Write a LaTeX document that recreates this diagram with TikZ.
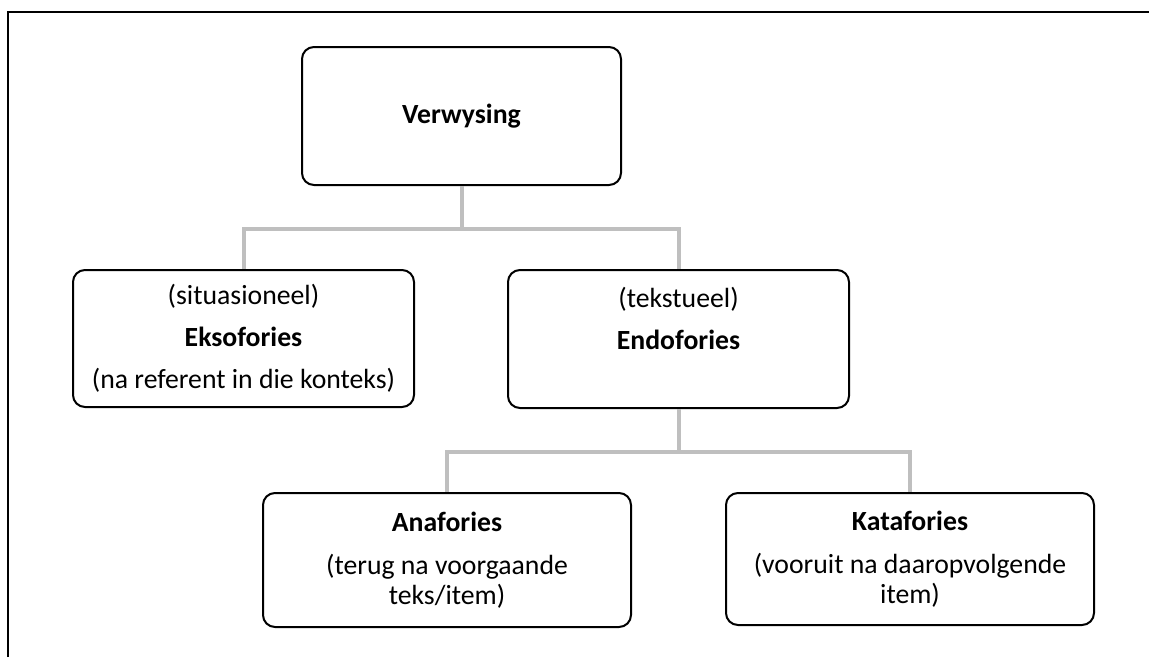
\documentclass[tikz,border=0pt]{standalone}
\usepackage{fontspec}
\setmainfont{Carlito}
\usepackage{tikz}
\usetikzlibrary{positioning,calc}

\begin{document}
\begin{tikzpicture}[x=0.75pt,y=-0.75pt,
	box/.style={draw=black, line width=1.5pt, rounded corners=9pt, fill=white, align=center, inner sep=0pt, font=\fontsize{20.8}{22.5}\selectfont},
	link/.style={draw=gray!50, line width=3pt}]
	\useasboundingbox (0,0) rectangle (1149,657);
	% frame round the figure
	\draw[line width=1.5pt] (8,657) -- (8,11.5) -- (1149,11.5);

	\node[box, minimum width=239.25pt, minimum height=103.5pt] (verw) at (461.5,116) {\textbf{Verwysing}};
	\node[box, minimum width=255.75pt, minimum height=102.75pt] (ekso) at (243.5,338.5) {(situasioneel)\\[9pt] \textbf{Eksofories}\\[9pt] (na referent in die konteks)};
	\node[box, minimum width=255.75pt, minimum height=103.5pt] (endo) at (678.5,339) {(tekstueel)\\[9pt] \textbf{Endofories}\\[9pt] \mbox{}};
	\node[box, minimum width=276pt, minimum height=100.5pt] (ana) at (447,560) {\textbf{Anafories}\\[10pt] (terug na voorgaande\\ teks/item)};
	\node[box, minimum width=276pt, minimum height=99pt] (kata) at (910,559) {\textbf{Katafories}\\[10pt] (vooruit na daaropvolgende\\ item)};

	% connectors
	\draw[link] (verw.south) -- ++(0,43) -| (ekso.north);
	\draw[link] (verw.south) -- ++(0,43) -| (endo.north);
	\draw[link] (endo.south) -- ++(0,43) -| (ana.north);
	\draw[link] (endo.south) -- ++(0,43) -| (kata.north);
\end{tikzpicture}
\end{document}
